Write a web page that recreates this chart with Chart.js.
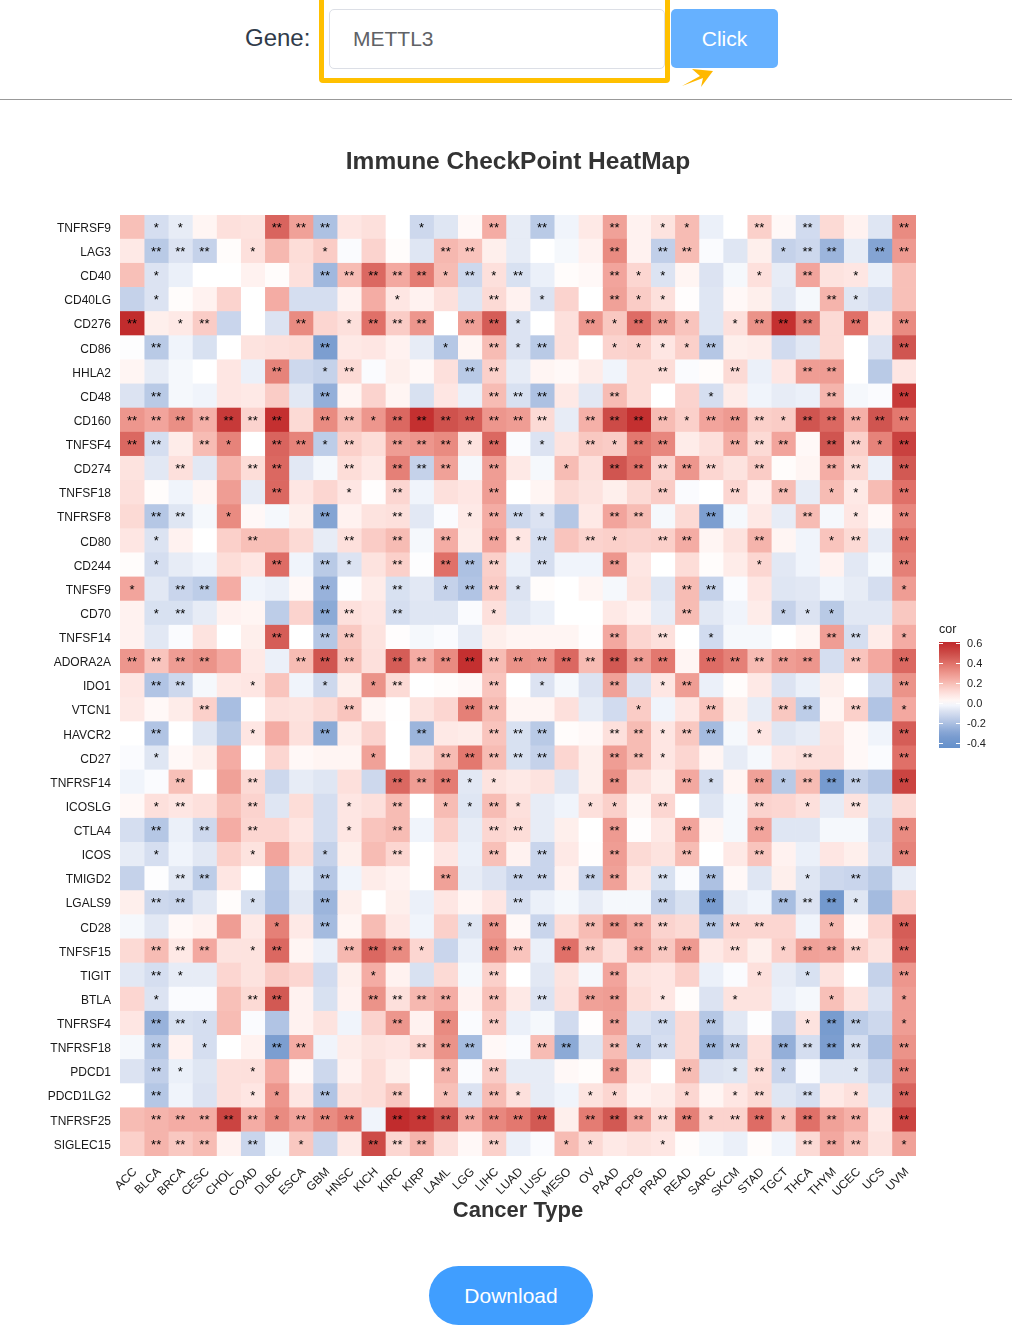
<!DOCTYPE html>
<html lang="en">
<head>
  <meta charset="UTF-8">
  <title>Immune CheckPoint HeatMap</title>
  <style>
    html, body { margin: 0; padding: 0; background: #fff; font-family: "Liberation Sans", Arial, sans-serif; }
    body { position: relative; width: 1012px; height: 1328px; overflow: hidden; }
    .abs { position: absolute; }
    #gene-label { left: 245px; top: 23px; font-size: 24px; line-height: 30px; color: #303b4a; }
    #highlight { left: 319px; top: -6px; width: 341px; height: 79px; border: 5px solid #ffc000; border-radius: 4px; }
    #gene-input { left: 329px; top: 9px; width: 334px; height: 58px; border: 1px solid #dcdfe6; border-radius: 5px; background: #fff; }
    #gene-text { left: 353px; top: 24px; font-size: 21px; line-height: 30px; color: #606266; }
    #click-btn { left: 671px; top: 9px; width: 107px; height: 59px; line-height: 60px; background: #66b1ff; border-radius: 5px; color: #fff; font-size: 21px; text-align: center; }
    #arrow { left: 680px; top: 68px; }
    #rule { left: 0; top: 99px; width: 1012px; height: 1px; background: #999; }
    #chart { left: 0; top: 130px; }
    #cor-title { left: 939px; top: 622px; font-size: 12.5px; line-height: 14px; color: #222; }
    #cor-bar { left: 939px; top: 642px; width: 21px; height: 106px; }
    .cor-tick { position: absolute; left: 967px; font-size: 11px; line-height: 14px; color: #222; }
    .cor-mark { position: absolute; width: 4px; height: 1px; background: #fff; }
    #download { left: 429px; top: 1266px; width: 164px; height: 59px; line-height: 60px; background: #409eff; border-radius: 30px; color: #fff; font-size: 21px; text-align: center; }
  </style>
</head>
<body>
  <div class="abs" id="gene-label">Gene:</div>
  <div class="abs" id="highlight"></div>
  <div class="abs" id="gene-input"></div>
  <div class="abs" id="gene-text">METTL3</div>
  <div class="abs" id="click-btn">Click</div>
  <svg class="abs" id="arrow" width="36" height="22"><polygon points="2,18 20,8 12,1 33,3 21,19 23,10" fill="#ffb800"/></svg>
  <div class="abs" id="rule"></div>
  <canvas class="abs" id="chart" width="1012" height="1096"></canvas>
  <div class="abs" id="cor-title">cor</div>
  <div class="abs" id="cor-bar"></div>
  <div class="abs" id="download">Download</div>

  <script src="https://cdn.jsdelivr.net/npm/chart.js"></script>
  <script>
    const cancerTypes = ["ACC","BLCA","BRCA","CESC","CHOL","COAD","DLBC","ESCA","GBM","HNSC","KICH","KIRC","KIRP","LAML","LGG","LIHC","LUAD","LUSC","MESO","OV","PAAD","PCPG","PRAD","READ","SARC","SKCM","STAD","TGCT","THCA","THYM","UCEC","UCS","UVM"];
    const genes = ["TNFRSF9","LAG3","CD40","CD40LG","CD276","CD86","HHLA2","CD48","CD160","TNFSF4","CD274","TNFSF18","TNFRSF8","CD80","CD244","TNFSF9","CD70","TNFSF14","ADORA2A","IDO1","VTCN1","HAVCR2","CD27","TNFRSF14","ICOSLG","CTLA4","ICOS","TMIGD2","LGALS9","CD28","TNFSF15","TIGIT","BTLA","TNFRSF4","TNFRSF18","PDCD1","PDCD1LG2","TNFRSF25","SIGLEC15"];

    // correlation, one row per gene, columns in cancerTypes order
    const corValues = [
      [.19,-.1,-.05,.03,.1,.09,.43,.27,-.2,.08,.1, 0,-.12,-.07,.02,.24,-.05,-.17,-.03,.07,.27,.04, .09,.2,-.04,0,.15,.02,-.11,.12,.04,-.07,.33],
      [.07,-.17,-.08,-.14,.01,.1,.21,.11,.16,-.01,.14, .01,-.07,.21,.18,.05,-.05,0,-.02,.04,.33,.04, -.15,.2,-.01,-.07,.05,-.14,-.12,-.24,-.05,-.3,.29],
      [.19,-.08,-.04,0,0,.04,.01,.1,-.23,.2,.42, .25,.37,.2,-.12,.1,-.09,-.04,.01,.02,.26,.13, -.08,.03,-.08,-.02,.1,-.05,.26,.09,.08,-.04,.19],
      [-.14,-.08,.01,.04,.14,0,.24,-.1,-.1,.04,.24, .08,.04,.1,-.07,.12,.04,-.08,.14,0,.27,.16, .1,.005,-.07,.02,.05,-.06,-.02,.22,-.07,-.1,.19],
      [.6,.05,.07,.16,-.13,0,-.08,.33,.13,.1,.4, .16,.3,0,.27,.45,-.08,0,.1,.3,.17,.41, .27,.18,-.07,.1,.31,.58,.36,.12,.4,.07,.33],
      [-.005,-.17,-.03,-.09,0,.09,.1,.11,-.32,.07,.08, .04,-.05,-.18,.03,.2,-.08,-.17,.1,0,.14,.15, .08,.15,-.18,.05,.06,-.11,-.06,.12,0,-.08,.47],
      [.03,-.05,-.02,0,.08,-.04,.35,-.12,-.14,.12,-.01, .05,.02,.1,-.17,.15,-.05,.03,.02,.06,-.03,.11, .11,-.01,.01,.12,-.04,.08,.28,.28,0,-.17,.08],
      [-.08,-.17,-.02,-.03,.08,.07,.16,-.06,-.26,.03,.14, .03,-.09,.08,-.04,.2,-.09,-.2,.07,-.06,.2,.11, 0,.14,-.1,.06,-.03,-.05,-.04,.22,-.02,-.01,.55],
      [.3,.26,.32,.23,.55,.14,.58,.12,.33,.2,.3, .42,.58,.48,.45,.3,.28,.12,-.05,.23,.5,.58, .2,.15,.26,.29,.15,.16,.47,.42,.23,.47,.38],
      [.42,-.1,.06,.2,.35,0,.43,.35,-.16,.15,.11, .28,.3,.33,.09,.42,-.01,-.08,.09,.17,.16,.38, .34,.06,.1,.24,.12,.26,.02,.47,.15,.35,.53],
      [.09,-.06,.1,-.06,.22,.11,.42,-.06,-.02,.11,.07, .36,-.14,.27,-.02,.28,.07,-.02,.2,.1,.47,.4, .14,.3,.13,.09,.16,.01,.03,.24,.12,-.04,.46],
      [.1,.01,-.03,.03,.28,-.05,.42,.08,.13,.08,.005, .13,-.03,.1,.08,.28,0,.03,.12,.09,.05,.12, .16,-.01,0,.13,.04,.2,-.05,.2,.07,.2,.4],
      [.12,-.18,-.07,-.02,.33,.02,-.02,.05,-.3,.04,.09, .1,-.06,-.01,.07,.24,-.12,-.08,-.18,.07,.26,.2, -.02,.12,-.32,-.02,.07,-.05,.2,-.02,.08,.02,.34],
      [.08,-.08,.04,0,.15,.19,.19,.12,-.05,.1,.16, .2,-.02,.24,.06,.26,.08,-.1,.18,.14,.15,.14, .15,.24,.03,.09,.22,.03,-.03,.18,.12,-.05,.38],
      [.01,-.1,-.05,-.03,.11,.08,.41,-.03,-.17,-.08,.09, .15,-.005,.4,-.2,.15,-.04,-.1,-.03,-.03,.3,.08, 0,.11,.01,.06,.13,-.06,-.03,.04,-.06,-.02,.36],
      [.26,-.06,-.13,-.16,.24,-.03,-.04,.02,-.25,-.005,.06, -.09,-.06,-.14,-.19,.16,-.08,.01,0,.03,-.02,.09, -.07,.2,-.14,-.01,.08,-.07,-.06,-.03,-.05,-.1,.28],
      [.04,-.09,-.09,-.05,.04,.03,-.16,.14,-.28,.1,.08, -.1,-.07,-.07,-.01,.1,-.06,-.04,0,0,.07,.04, -.05,.2,-.06,-.03,.06,-.14,-.08,-.17,-.06,-.06,.17],
      [.04,-.06,-.01,.09,0,.05,.45,0,-.18,.17,.09, .005,-.02,-.01,-.05,.05,.03,.03,.03,.005,.25,.13, .1,0,-.11,-.02,-.02,0,.03,.28,-.1,.06,.24],
      [.3,.18,.28,.31,.25,.07,-.04,.2,.47,.19,.1, .45,.24,.33,.58,.2,.31,.3,.42,.2,.46,.28, .38,.03,.41,.36,.2,.28,.3,-.1,.18,.25,.42],
      [.08,-.19,-.12,-.02,.07,.08,.18,-.03,-.12,.05,.31, .12,0,.01,.02,.18,0,-.08,-.02,-.08,.27,-.08, .08,.28,-.04,.01,.07,-.08,-.04,.05,0,-.1,.31],
      [.07,.02,.06,.15,-.21,0,.1,.09,.12,.18,.03, .002,.09,.13,.36,.2,.03,.03,.1,-.05,-.11,.16, -.03,.08,.19,.05,-.05,.17,-.16,.03,.15,-.19,.25],
      [0,-.19,0,-.07,-.17,.08,.24,.1,-.28,.06,.14, 0,-.24,.07,.06,.18,-.09,-.17,.01,.02,.1,.2, .08,.17,-.22,-.02,.08,-.07,-.05,.09,.02,-.03,.45],
      [-.01,-.07,.02,.05,.24,0,.13,.02,.03,.03,.27, 0,.09,.2,.38,.2,-.09,-.14,.13,.05,.28,.2, .08,.13,.03,-.05,-.02,.08,.1,.1,.02,-.01,.4],
      [-.03,-.01,.19,0,.27,.12,-.12,-.05,-.07,.1,-.12, .42,.28,.37,-.06,.09,.07,.09,-.07,.05,.32,.1, .05,.25,-.1,.03,.27,-.17,.2,-.35,-.14,-.18,.52],
      [.02,.1,.08,.1,.19,.14,-.07,.11,-.1,.08,.1, .2,0,.2,-.07,.2,.1,-.05,-.03,.1,.15,.03, .13,0,-.07,-.02,.14,.13,.1,-.05,.09,-.07,.12],
      [-.1,-.18,-.04,-.12,.24,.13,.13,.08,-.1,.08,.18, .2,-.03,.15,-.05,.13,.11,-.05,.05,0,.29,.005, .07,.26,.03,-.02,.26,-.07,-.07,-.02,-.02,-.1,.33],
      [-.05,-.1,-.03,-.06,.15,.09,.26,.11,-.14,.05,.2, .13,0,.08,-.04,.19,.04,-.13,.07,.005,.28,.12, .09,.2,0,.07,.18,.04,-.04,.08,.05,-.08,.35],
      [-.14,-.005,-.06,-.16,.08,0,-.18,-.04,-.18,-.03,.06, .04,0,.27,-.05,-.08,-.13,-.13,.04,-.14,.27,.07, -.09,-.01,-.2,.02,-.07,.05,-.07,-.12,-.13,-.17,-.05],
      [.05,-.12,-.13,-.06,.01,-.09,-.19,-.06,-.24,.05,0, .05,-.04,.08,.03,.08,-.1,-.04,-.02,-.05,-.02,-.02, -.14,-.09,-.33,-.05,-.03,-.21,-.08,-.37,-.07,-.22,.14],
      [-.02,-.06,.02,.04,.28,.07,.36,.07,-.22,.03,.2, .07,-.03,.15,-.07,.3,.02,-.13,.11,.2,.31,.24, .14,.12,-.18,.13,.13,.13,-.03,.21,.02,.13,.45],
      [.12,.2,.07,.25,.09,.09,.42,.03,-.04,.21,.42, .33,.13,-.13,-.04,.32,.18,-.04,.4,.17,.1,.25, .17,.29,.07,.11,.05,.15,.27,.26,.15,.09,.43],
      [-.06,-.1,-.05,-.05,.13,.09,.16,.13,-.11,.05,.24, .04,-.09,.12,-.02,.15,0,-.06,.09,-.02,.26,.09, .08,.15,-.04,-.01,.1,-.05,-.09,.09,0,-.14,.3],
      [.13,-.08,-.01,-.01,.19,.12,.46,.04,-.09,.04,.31, .1,.21,.24,.04,.19,.07,-.08,.1,.27,.28,.11, .08,.01,-.08,.09,.09,-.04,-.02,.19,.09,-.08,.28],
      [.08,-.25,-.09,-.1,.2,-.01,-.19,.04,.09,-.03,.14, .3,.04,.33,-.01,.16,-.04,-.02,-.11,.005,.27,-.08, -.11,.12,-.18,-.06,-.005,-.13,.09,-.34,-.16,-.12,.28],
      [-.02,-.18,.04,-.1,0,.04,-.32,.24,-.03,.06,.09, .08,.13,.31,-.22,.02,-.01,.2,-.28,-.07,.2,-.15, -.1,.12,-.23,-.14,.1,-.26,-.1,-.32,-.1,-.2,.31],
      [-.08,-.15,-.04,-.07,.1,.1,.24,.02,-.12,.04,.11, .05,0,.22,-.01,.16,-.05,-.05,.02,.01,.28,.07, 0,.2,-.08,-.07,.11,-.13,-.01,-.07,-.07,-.12,.36],
      [0,-.18,-.03,-.08,.1,.08,.3,.08,-.19,.09,.11, .17,0,.19,-.08,.2,.1,-.05,-.03,.09,.13,.04, .06,.13,.03,.08,.12,-.07,-.1,.07,.1,-.07,.43],
      [.2,.22,.24,.24,.52,.24,.33,.26,.33,.38,-.03, .6,.56,.47,.24,.34,.38,.46,.05,.37,.46,.26, .12,.36,.14,.14,.41,.19,.4,.27,.23,.07,.52],
      [.15,.22,.17,.2,.04,-.13,-.02,.17,-.13,.07,.5, .13,.22,.1,.02,.15,-.04,-.01,.2,.12,.07,.09, .08,.01,-.02,-.04,.01,-.03,.12,.25,.18,.09,.27]
    ];

    // significance stars per cell: 0 none, 1 "*", 2 "**"
    const starRows = [
      "01100022200 01002020020 11002020002",
      "02220100100 00220000020 22000122022",
      "01000000222 22121200021 10001020100",
      "01000000000 10002010021 10000002100",
      "20120002012 22022100212 21012220202",
      "02000000200 00102120011 11200000002",
      "00000020120 00022000000 20020022000",
      "02000000200 00002220020 00100002002",
      "22222220221 22222220222 21222122222",
      "22021022120 22212010212 20022202212",
      "00200220020 22202001022 22202002202",
      "00000020010 20002000000 20020201102",
      "02201000200 20012210022 00200020102",
      "01000200020 20202120210 22002001202",
      "01000020210 20222020020 00001000002",
      "10220000200 20122100000 02200000001",
      "01200000220 20001000000 02000111000",
      "00000020220 00000000020 20100002201",
      "22220002220 22222222222 20222220202",
      "02200100101 20002010020 12000000002",
      "00020000020 00022000001 00200220201",
      "02000100200 02002220022 12201000002",
      "01000000001 00222220022 10000020002",
      "00200200000 22211000020 02102122202",
      "01200200010 20112100110 20002010200",
      "02020200010 20002200020 02002000002",
      "01000100100 20002020020 02002000002",
      "00220000200 00200220220 20200010200",
      "02200100200 00000200000 20200222100",
      "00000010200 00012020222 20222001002",
      "02220120022 21002202202 22020122202",
      "02100000001 00002000020 00001010002",
      "01000220002 22202020220 10010001001",
      "02210000000 20202000020 20200012201",
      "02010022000 02220022021 20220222202",
      "02100100000 00202000020 02012100102",
      "02000110200 20112100110 01012020102",
      "02222212220 22222220222 22122122202",
      "02220201002 22002001100 10000022201"
    ].map(s => s.replace(/ /g, ""));

    const corTicks = [0.6, 0.4, 0.2, 0.0, -0.2, -0.4];

    // colour ramp
    const ramp = [
      [-.45,[100,144,203]],[-.32,[124,158,208]],[-.23,[160,184,222]],[-.18,[181,199,229]],[-.14,[197,210,234]],
      [-.1,[213,222,240]],[-.06,[226,232,244]],[-.03,[240,244,251]],[0,[255,255,255]],[.03,[255,245,243]],
      [.1,[253,224,220]],[.15,[251,208,202]],[.2,[247,188,180]],[.25,[243,168,160]],[.32,[234,143,133]],
      [.4,[224,112,104]],[.47,[208,85,80]],[.58,[196,48,48]],[.62,[190,40,42]]
    ];
    function corColor(v) {
      for (let k = 1; k < ramp.length; k++) {
        if (v <= ramp[k][0]) {
          const t = Math.max(0, (v - ramp[k-1][0]) / (ramp[k][0] - ramp[k-1][0]));
          const c = ramp[k-1][1].map((a, n) => Math.round(a + (ramp[k][1][n] - a) * t));
          return `rgb(${c[0]},${c[1]},${c[2]})`;
        }
      }
      return "rgb(190,40,42)";
    }

    // one stacked series per cancer type, each cell is one unit wide
    const datasets = cancerTypes.map((name, j) => ({
      label: name,
      data: genes.map(() => 1),
      backgroundColor: genes.map((g, i) => corColor(corValues[i][j])),
      borderWidth: 0,
      barPercentage: 1,
      categoryPercentage: 1
    }));

    const starsPlugin = {
      id: "stars",
      afterDatasetsDraw(chart) {
        const ctx = chart.ctx, xs = chart.scales.x, ys = chart.scales.y;
        ctx.save();
        ctx.fillStyle = "#000";
        ctx.font = "13px 'Liberation Sans'";
        ctx.textAlign = "center";
        ctx.textBaseline = "middle";
        starRows.forEach((row, i) => {
          for (let j = 0; j < row.length; j++) {
            if (row[j] === "0") continue;
            ctx.fillText("*".repeat(+row[j]), xs.getPixelForValue(j + .5), ys.getPixelForValue(i) + 1);
          }
        });
        ctx.restore();
      }
    };

    new Chart(document.getElementById("chart"), {
      type: "bar",
      data: { labels: genes, datasets },
      plugins: [starsPlugin],
      options: {
        indexAxis: "y",
        responsive: false,
        devicePixelRatio: 1,
        animation: false,
        layout: { padding: { left: 0, right: 96, top: 0, bottom: 0 } },
        plugins: {
          legend: { display: false },
          tooltip: { enabled: false },
          title: {
            display: true,
            text: "Immune CheckPoint HeatMap",
            fullSize: false,
            color: "#333",
            font: { family: "'Liberation Sans'", size: 24.5, weight: "bold", lineHeight: 1.2 },
            padding: { top: 18, bottom: 37.6 }
          }
        },
        scales: {
          x: {
            stacked: true,
            min: 0,
            max: cancerTypes.length,
            afterBuildTicks(scale) { scale.ticks = cancerTypes.map((c, j) => ({ value: j + .5 })); },
            afterFit(scale) { scale.height = 70; },
            grid: { display: false },
            border: { display: false },
            ticks: {
              autoSkip: false,
              minRotation: 45,
              maxRotation: 45,
              padding: 1,
              labelOffset: 3,
              color: "#1a1a1a",
              font: { family: "'Liberation Sans'", size: 12 },
              callback: value => cancerTypes[Math.floor(value)]
            },
            title: {
              display: true,
              text: "Cancer Type",
              color: "#333",
              font: { family: "'Liberation Sans'", size: 22, weight: "bold" },
              padding: { top: 0, bottom: 2 }
            }
          },
          y: {
            stacked: true,
            afterFit(scale) { scale.width = 120; },
            grid: { display: false },
            border: { display: false },
            ticks: {
              autoSkip: false,
              padding: 1,
              labelOffset: 1.5,
              color: "#1a1a1a",
              font: { family: "'Liberation Sans'", size: 12 }
            }
          }
        }
      }
    });

    // colour bar legend
    const bar = document.getElementById("cor-bar");
    const stops = [];
    for (let n = 0; n <= 20; n++) {
      const v = .61 - (1.06 * n / 20);
      stops.push(corColor(v) + " " + (n * 5) + "%");
    }
    bar.style.background = "linear-gradient(to bottom," + stops.join(",") + ")";
    corTicks.forEach(t => {
      const y = 703 - t * 100;
      const lab = document.createElement("div");
      lab.className = "cor-tick";
      lab.style.top = (y - 7) + "px";
      lab.textContent = t.toFixed(1);
      document.body.appendChild(lab);
      [939, 956].forEach(x => {
        const m = document.createElement("div");
        m.className = "cor-mark";
        m.style.left = x + "px";
        m.style.top = y + "px";
        document.body.appendChild(m);
      });
    });
  </script>
</body>
</html>
